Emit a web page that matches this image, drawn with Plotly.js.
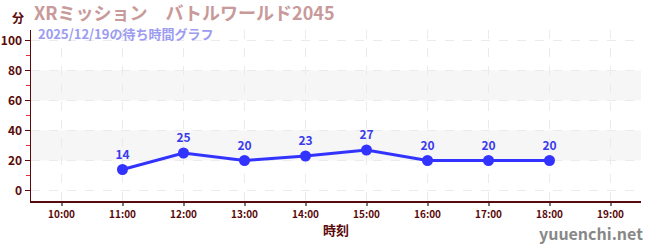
<!DOCTYPE html>
<html><head><meta charset="utf-8">
<script src="https://cdn.plot.ly/plotly-3.0.1.min.js"></script>
<style>html,body{margin:0;padding:0;background:#fff}#c{width:650px;height:250px}</style>
</head><body><div id="c"></div>
<script>
const hours = [11, 12, 13, 14, 15, 16, 17, 18];
const waits = [14, 25, 20, 23, 27, 20, 20, 20];
const tickHours = [10, 11, 12, 13, 14, 15, 16, 17, 18, 19];
const tickLabels = ["10:00","11:00","12:00","13:00","14:00","15:00","16:00","17:00","18:00","19:00"];
const yTicks = [0, 20, 40, 60, 80, 100];
const bands = [[20, 40], [60, 80]];
const titleText = "XRミッション　バトルワールド2045";
const subtitleText = "2025/12/19の待ち時間グラフ";
const unitText = "分";
const xTitle = "時刻";
const watermark = "yuuenchi.net";

const F = '"Noto Sans CJK JP", "Noto Sans", sans-serif';
const dark = '#5a0a0a';

const trace = {
  x: hours, y: waits, type: 'scatter', mode: 'lines+markers+text',
  text: waits.map(String), textposition: 'top center',
  textfont: {family: F, size: 12, color: '#3a3aee', weight: 'bold'},
  line: {color: '#3333ff', width: 3},
  marker: {color: '#3333ff', size: 11},
  hoverinfo: 'none', cliponaxis: false
};

const shapes = bands.map(b => ({
  type: 'rect', xref: 'paper', yref: 'y', x0: 0, x1: 1, y0: b[0], y1: b[1],
  fillcolor: '#f6f6f6', line: {width: 0}, layer: 'below'
}));

const layout = {
  width: 650, height: 250,
  margin: {l: 31, r: 9, t: 30, b: 49},
  paper_bgcolor: '#fff', plot_bgcolor: '#fff',
  showlegend: false,
  shapes: shapes,
  xaxis: {
    range: [9.5, 19.5], tickvals: tickHours, ticktext: tickLabels,
    tickfont: {family: F, size: 10, color: dark, weight: 'bold'},
    ticks: 'outside', ticklen: 3, tickcolor: '#777', tickwidth: 2,
    showline: true, linecolor: dark, linewidth: 1.5,
    showgrid: true, gridcolor: '#ebebeb', griddash: 'dash', gridwidth: 1,
    zeroline: false,
    title: {text: xTitle, font: {family: F, size: 13, color: dark, weight: 'bold'}, standoff: 6}
  },
  yaxis: {
    range: [-7, 107], tickvals: yTicks,
    tickfont: {family: F, size: 12, color: dark, weight: 'bold'},
    ticks: 'outside', ticklen: 5, tickcolor: dark, tickwidth: 1,
    minor: {tickvals: [10, 30, 50, 70, 90], ticks: 'outside', ticklen: 4, tickcolor: '#e03030', showgrid: false},
    showline: true, linecolor: dark, linewidth: 1.5,
    showgrid: true, gridcolor: '#ebebeb', griddash: 'dash', gridwidth: 1,
    zeroline: false
  },
  annotations: [
    {text: titleText, xref: 'paper', yref: 'paper', x: 0.003, y: 1, yshift: 18, xanchor: 'left', yanchor: 'middle', showarrow: false, borderpad: 0,
     font: {family: F, size: 18, color: '#c89a9a', weight: 'bold'}},
    {text: unitText, xref: 'paper', x: -0.035, yref: 'paper', y: 1, yshift: 13, xanchor: 'left', yanchor: 'middle', showarrow: false,
     font: {family: F, size: 12, color: dark, weight: 'bold'}},
    {text: subtitleText, xref: 'paper', yref: 'paper', x: 0.01, y: 1, yshift: -3, xanchor: 'left', yanchor: 'middle', showarrow: false, borderpad: 0,
     font: {family: F, size: 13, color: '#9c9cf0', weight: 'bold'}},
    {text: watermark, xref: 'paper', yref: 'paper', x: 1, xshift: 4, y: 0, yshift: -32, xanchor: 'right', yanchor: 'middle', showarrow: false,
     font: {family: F, size: 16, color: '#888', weight: 'bold'}}
  ]
};

Plotly.newPlot('c', [trace], layout, {staticPlot: true, displayModeBar: false});
</script></body></html>
